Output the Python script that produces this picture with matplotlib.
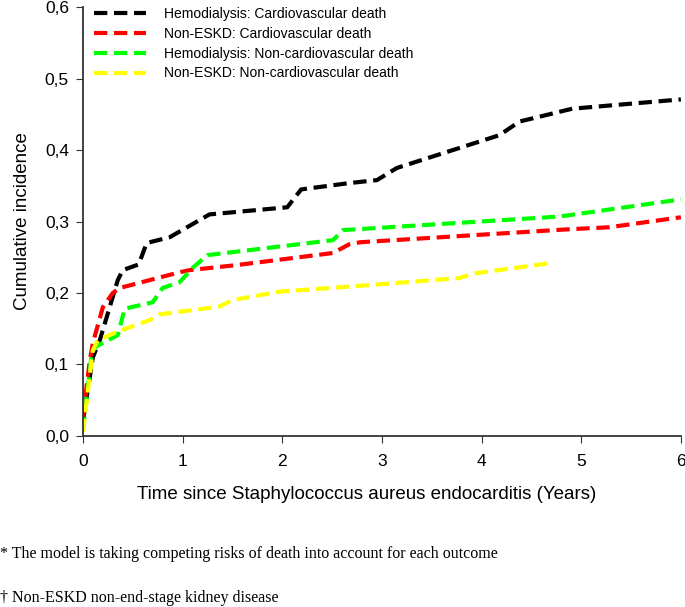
import numpy as np
import matplotlib
matplotlib.use("Agg")
import matplotlib.pyplot as plt

plt.rcParams['font.family'] = ['Liberation Sans', 'DejaVu Sans']

# (years, cumulative incidence)
hd_cv_t = [0, 0.1, 0.17, 0.35, 0.4, 0.56, 0.64, 0.87, 1.17, 1.27, 2.05, 2.19, 2.68, 2.95, 3.15, 4.18, 4.38, 4.91, 6.0]
hd_cv_y = [0.02, 0.11, 0.134, 0.218, 0.232, 0.24, 0.27, 0.278, 0.302, 0.31, 0.32, 0.345, 0.354, 0.358, 0.375, 0.421, 0.44, 0.458, 0.471]

ne_cv_t = [0, 0.07, 0.1, 0.2, 0.3, 0.37, 0.97, 1.07, 1.54, 2.51, 2.67, 2.78, 4.85, 5.28, 6.0]
ne_cv_y = [0.027, 0.106, 0.13, 0.18, 0.2, 0.207, 0.229, 0.232, 0.239, 0.256, 0.268, 0.271, 0.289, 0.292, 0.306]

hd_ncv_t = [0, 0.09, 0.13, 0.2, 0.35, 0.42, 0.7, 0.8, 0.97, 1.1, 1.25, 2.51, 2.61, 4.78, 6.0]
hd_ncv_y = [0.008, 0.116, 0.125, 0.13, 0.141, 0.178, 0.187, 0.207, 0.215, 0.235, 0.253, 0.274, 0.288, 0.307, 0.331]

ne_ncv_t = [0, 0.1, 0.15, 0.35, 0.67, 0.77, 1.37, 1.5, 1.98, 2.78, 3.78, 3.91, 4.7]
ne_ncv_y = [0.005, 0.12, 0.134, 0.146, 0.162, 0.17, 0.181, 0.19, 0.202, 0.21, 0.221, 0.227, 0.242]

labels = ["Hemodialysis: Cardiovascular death",
          "Non-ESKD: Cardiovascular death",
          "Hemodialysis: Non-cardiovascular death",
          "Non-ESKD: Non-cardiovascular death"]
colors = ["black", "#ff0000", "#00ff00", "#ffff00"]

fig = plt.figure(figsize=(6.85, 6.07), dpi=100)
ax = fig.add_axes([0.121, 0.282, 0.873, 0.706])

series = [(hd_cv_t, hd_cv_y), (ne_cv_t, ne_cv_y), (hd_ncv_t, hd_ncv_y), (ne_ncv_t, ne_ncv_y)]
for (t, y), c, lab in zip(series, colors, labels):
    ax.plot(t, y, color=c, lw=3.0, linestyle=(0, (3.2, 1.6)), label=lab)

ax.set_xlim(0, 6)
ax.set_ylim(0, 0.6)
ax.set_xticks(range(7))
ax.set_yticks(np.arange(0, 0.61, 0.1))
ax.set_yticklabels([f"{v:.1f}".replace(".", ",") for v in np.arange(0, 0.61, 0.1)])
ax.tick_params(labelsize=12.5, length=5, color="#333333", pad=5)
ax.tick_params(axis="x", pad=8)
for s in ["top", "right"]:
    ax.spines[s].set_visible(False)
for s in ["left", "bottom"]:
    ax.spines[s].set_color("#333333")
    ax.spines[s].set_linewidth(1.3)

ax.set_ylabel("Cumulative incidence", fontsize=13.5, labelpad=10)
ax.set_xlabel("Time since Staphylococcus aureus endocarditis (Years)", fontsize=13.5)
ax.xaxis.set_label_coords(0.475, -0.117)

ax.legend(loc="upper left", bbox_to_anchor=(-0.002, 1.03), frameon=False, fontsize=10,
          handlelength=3.75, handletextpad=1.25, labelspacing=0.42)

fig.text(0.0, 0.088, "* The model is taking competing risks of death into account for each outcome",
         family="Liberation Serif", fontsize=11.5, va="center")
fig.text(0.0, 0.015, "\u2020 Non-ESKD non-end-stage kidney disease",
         family="Liberation Serif", fontsize=11.5, va="center")

fig.savefig("out.png", dpi=100)
